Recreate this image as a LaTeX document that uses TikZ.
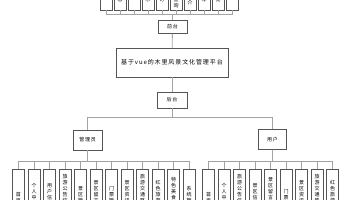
\documentclass[tikz,border=0pt]{standalone}
\usepackage{fontspec}
\newfontfamily\cjk{Noto Sans CJK SC}
\newfontfamily\cjkwide{Noto Sans CJK SC}[LetterSpace=15]
\usetikzlibrary{shadows}
\definecolor{edge}{HTML}{555555}
\definecolor{wire}{HTML}{A3A3A3}

\begin{document}
\begin{tikzpicture}[x=1pt,y=-1pt,
  font=\cjk\fontsize{5}{6}\selectfont,
  box/.style={draw=edge,fill=white,line width=0.5pt,inner sep=0pt,align=center,
    drop shadow={shadow xshift=0.8pt,shadow yshift=-0.8pt,fill=black!55,opacity=0.6}},
  head/.style={box,font=\cjkwide\fontsize{5}{6}\selectfont},
  leaf/.style={box,minimum width=12pt,minimum height=58pt},
  top/.style={box,minimum width=12pt,minimum height=50pt},
  link/.style={draw=wire,line width=0.8pt}
]
\useasboundingbox (0,0) rectangle (356,200);
\fill[white] (0,0) rectangle (356,200);
\clip (0,0) rectangle (356,200);

% front-end pages
\node[top] (f1) at (106,-15) {首\\页};
\node[top] (f2) at (120,-15) {旅\\游\\公\\告\\信\\息};
\node[top] (f3) at (134,-15) {景\\区\\分\\类};
\node[top] (f4) at (148,-15) {景\\区\\信\\息\\展\\示};
\node[top] (f5) at (162,-15) {门\\票\\在\\线\\预\\订};
\node[top] (f6) at (176,-15) {旅\\游\\交\\通\\路\\线\\查\\询};
\node[top] (f7) at (190,-15) {红\\色\\旅\\游\\景\\点\\介};
\node[top] (f8) at (204,-15) {特\\色\\美\\食\\推\\荐};
\node[top] (f9) at (218,-15) {景\\区\\资\\讯\\浏\\览};
\node[top] (f10) at (232,-15) {个\\人\\中\\心};

\node[head,minimum width=29pt,minimum height=13pt] (qian) at (172.5,27) {前台};
\node[box,font=\cjkwide\fontsize{6}{7}\selectfont,minimum width=112pt,
  minimum height=29pt] (main) at (172,62.5) {基于vue的木里风景文化管理平台};
\node[head,minimum width=30pt,minimum height=16pt] (hou) at (172,100) {后台};
\node[head,minimum width=29pt,minimum height=20pt] (admin) at (87.5,140) {管理员};
\node[head,minimum width=28pt,minimum height=20pt] (user) at (272.5,139.5) {用户};

% administrator modules
\node[leaf] (a1) at (18.5,198) {首\\页};
\node[leaf] (a2) at (34,198) {个\\人\\中\\心\\管};
\node[leaf] (a3) at (49.5,198) {用\\户\\信\\息\\管};
\node[leaf] (a4) at (65,198) {旅\\游\\公\\告\\信\\息\\管\\理};
\node[leaf] (a5) at (80.5,198) {景\\区\\管\\理};
\node[leaf] (a6) at (96,198) {景\\区\\留\\言\\管\\理};
\node[leaf] (a7) at (111.5,198) {门\\票\\管\\理};
\node[leaf] (a8) at (127,198) {景\\区\\资\\讯\\管\\理};
\node[leaf] (a9) at (142.5,198) {旅\\游\\交\\通\\路\\线\\管\\理};
\node[leaf] (a10) at (158,198) {红\\色\\旅\\游\\管\\理};
\node[leaf] (a11) at (173.5,198) {特\\色\\美\\食\\信\\息\\管};
\node[leaf] (a12) at (189,198) {系\\统\\管\\理};

% user modules
\node[leaf] (u1) at (208.5,198) {首\\页};
\node[leaf] (u2) at (224,198) {个\\人\\中\\心\\管};
\node[leaf] (u3) at (239.5,198) {旅\\游\\公\\告\\信\\息\\查\\看};
\node[leaf] (u4) at (255,198) {景\\区\\信\\息\\查};
\node[leaf] (u5) at (270.5,198) {景\\区\\留\\言\\板\\查\\看};
\node[leaf] (u6) at (286,198) {门\\票\\预};
\node[leaf] (u7) at (301.5,198) {景\\区\\资\\讯\\查\\看};
\node[leaf] (u8) at (317,198) {旅\\游\\交\\通\\路\\线\\查\\询};
\node[leaf] (u9) at (332.5,198) {红\\色\\旅\\游\\查\\看};

\coordinate (fbus) at (0,14);
\coordinate (mbus) at (0,117);
\coordinate (cbus) at (0,161);

\foreach \i in {1,...,10}
  \draw[link] (qian.north) -- (qian.north |- fbus) -| (f\i.south);
\draw[link] (qian) -- (main);
\draw[link] (main) -- (hou);
\draw[link] (hou.south) -- (hou.south |- mbus) -| (admin.north);
\draw[link] (hou.south) -- (hou.south |- mbus) -| (user.north);
\foreach \i in {1,...,12}
  \draw[link] (admin.south) -- (admin.south |- cbus) -| (a\i.north);
\foreach \i in {1,...,9}
  \draw[link] (user.south) -- (user.south |- cbus) -| (u\i.north);
\end{tikzpicture}
\end{document}
